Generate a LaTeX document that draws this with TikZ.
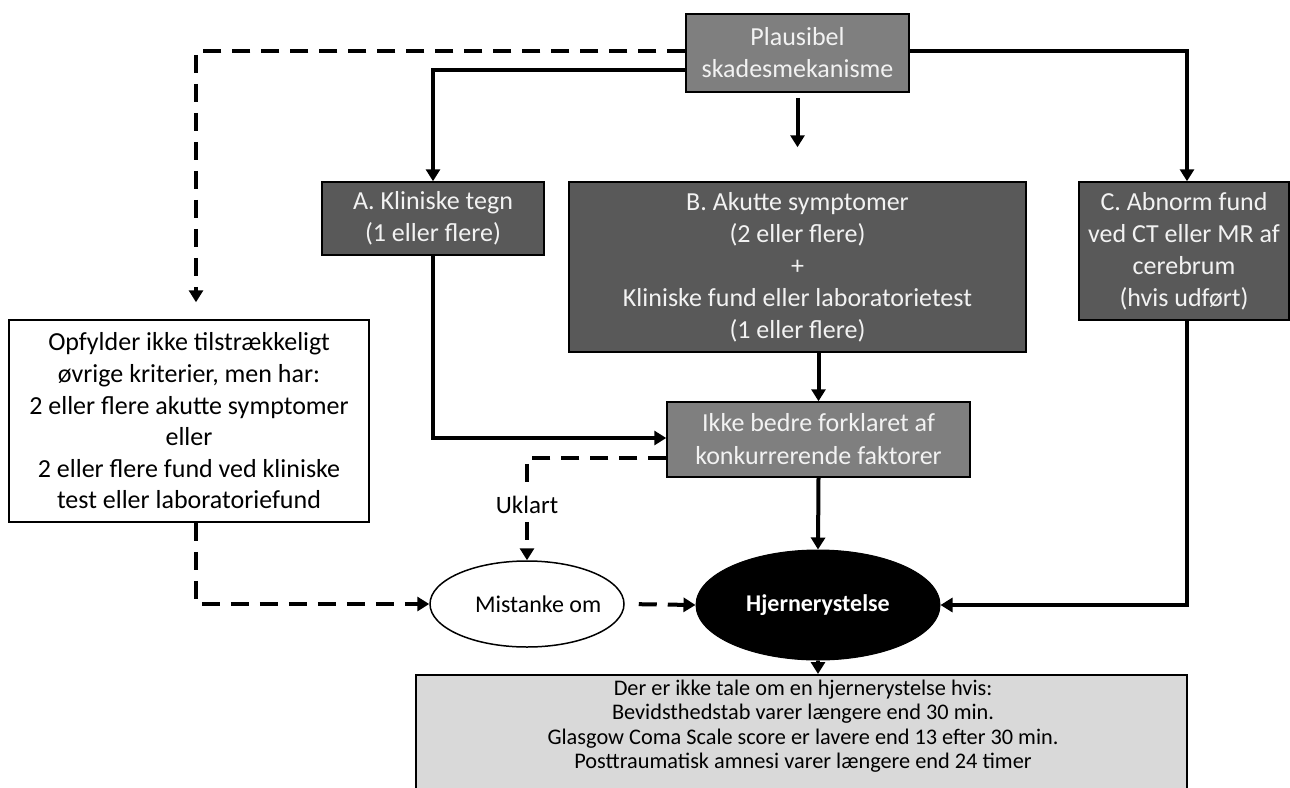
\documentclass[tikz,border=0pt]{standalone}
\usepackage{fontspec}
\setmainfont{Carlito}
\usetikzlibrary{arrows.meta,shapes.geometric}
\definecolor{boxmid}{HTML}{7F7F7F}
\definecolor{boxdark}{HTML}{595959}
\definecolor{boxlight}{HTML}{D9D9D9}
\definecolor{txtlight}{HTML}{F2F2F2}
\begin{document}
\begin{tikzpicture}[x=1pt,y=-1pt,
  base/.style={draw=black, line width=1.5pt, inner sep=0pt, align=center, font=\fontsize{26}{32}\selectfont},
  midbox/.style={base, fill=boxmid, text=txtlight},
  darkbox/.style={base, fill=boxdark, text=txtlight},
  whitebox/.style={base, fill=white, text=black, font=\fontsize{26}{31.6}\selectfont},
  conn/.style={line width=4pt, -{Triangle[width=14pt,length=12pt]}},
  dconn/.style={conn, dash pattern=on 18pt off 11pt},
  ]
\useasboundingbox (0,0) rectangle (1290,787);
\fill[white] (0,0) rectangle (1290,787);

\node[midbox, minimum width=223pt, minimum height=78pt] (top) at (797.5,53) {Plausibel\\skadesmekanisme};
\node[darkbox, minimum width=222pt, minimum height=73pt] (A) at (433,218.5) {A. Kliniske tegn\\(1 eller flere)};
\node[darkbox, minimum width=457pt, minimum height=170pt] (B) at (797.5,267) {B. Akutte symptomer\\(2 eller flere)\\+\\Kliniske fund eller laboratorietest\\(1 eller flere)};
\node[darkbox, minimum width=210pt, minimum height=138pt] (C) at (1184,251) {C. Abnorm fund\\ved CT eller MR af\\cerebrum\\(hvis udført)};
\node[whitebox, minimum width=360pt, minimum height=202pt] (left) at (189,421) {Opfylder ikke tilstrækkeligt\\øvrige kriterier, men har:\\2 eller flere akutte symptomer\\eller\\2 eller flere fund ved kliniske\\test eller laboratoriefund};
\node[midbox, minimum width=303pt, minimum height=75pt, font=\fontsize{26}{33}\selectfont] (mid) at (818.5,439.5) {Ikke bedre forklaret af\\konkurrerende faktorer};
\node[ellipse, draw=black, line width=1.5pt, fill=white, inner sep=0pt, minimum width=194pt, minimum height=86pt, font=\fontsize{24}{28}\selectfont] (mis) at (527,604) {\makebox[128pt][l]{\hspace{12pt}Mistanke om}};
\node[ellipse, draw=black, line width=1pt, fill=black, text=white, inner sep=0pt, minimum width=244pt, minimum height=110pt, font=\fontsize{24}{28}\selectfont\bfseries] (hj) at (818,605) {Hjernerystelse};
\node[draw=black, line width=1.5pt, fill=boxlight, minimum width=771pt, minimum height=140pt, anchor=north, inner sep=0pt] (bot) at (801.5,674) {};
\node[font=\fontsize{22.3}{24.5}\selectfont, align=center, inner sep=0pt] (bottxt) at (803,726) {Der er ikke tale om en hjernerystelse hvis:\\Bevidsthedstab varer længere end 30 min.\\Glasgow Coma Scale score er lavere end 13 efter 30 min.\\Posttraumatisk amnesi varer længere end 24 timer};

\draw[dconn] ([yshift=2pt]top.west) -| ([xshift=7pt,yshift=17pt]left.north);
\draw[conn] ([yshift=-17pt]top.west) -| (A.north);
\draw[conn] ([yshift=2pt]top.east) -| ([xshift=3pt]C.north);
\draw[conn] ([yshift=-5pt]top.south) -- ([yshift=34pt]B.north);
\draw[conn] (A.south) |- ([yshift=1.5pt]mid.west);
\draw[conn] (mid.north |- B.south) -- (mid.north);
\draw[conn] (mid.south) -- (hj.north);
\draw[dconn] ([yshift=-18.5pt]mid.west) -| node[pos=0.73, fill=white, inner sep=3pt, font=\fontsize{25}{28}\selectfont] {Uklart} (mis.north);
\draw[dconn] ([xshift=7pt]left.south) |- (mis.west);
\draw[dconn, shorten <=14pt] (mis.east) -- (hj.west);
\draw[conn] ([xshift=3pt]C.south) |- (hj.east);
\draw[conn] (hj.south) -- (hj.south |- bot.north);
\end{tikzpicture}
\end{document}
